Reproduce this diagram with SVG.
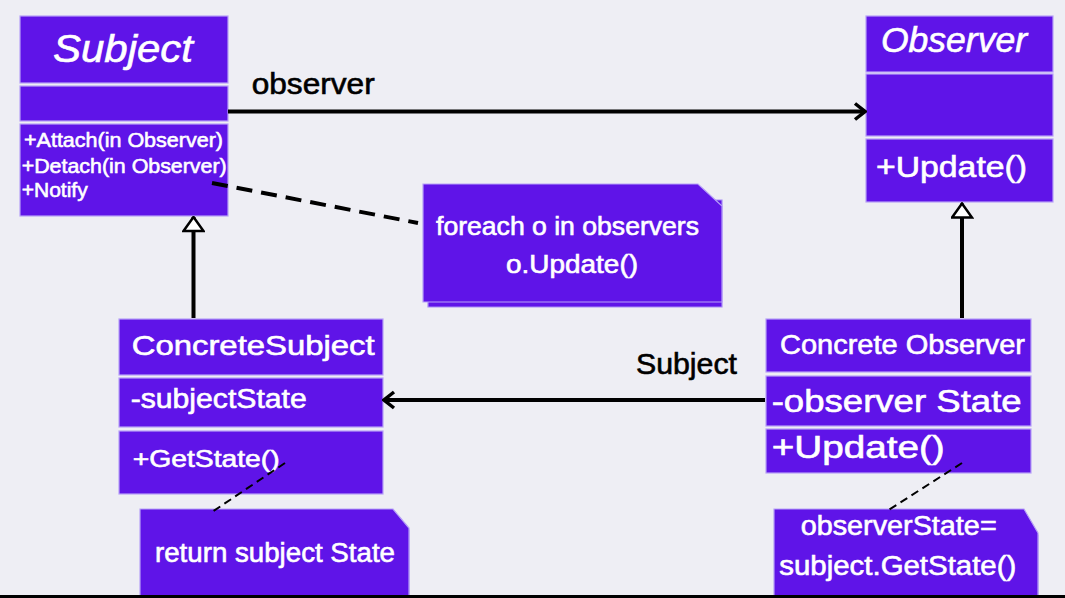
<svg xmlns="http://www.w3.org/2000/svg" width="1065" height="598" viewBox="0 0 1065 598">
<style>
.c{fill:#5f14e8;stroke:#b7a1f7;stroke-width:1.2}
.sh{fill:#5f14e8;stroke:#a88cf5;stroke-width:1.2}
.t{font-family:"Liberation Sans",Arial,sans-serif;fill:#ffffff;stroke:#ffffff;stroke-width:0.6}
.k{font-family:"Liberation Sans",Arial,sans-serif;fill:#000000;stroke:#000000;stroke-width:0.6}
.ln{stroke:#000;stroke-width:4;fill:none}
.dt{stroke:#000;stroke-width:2;fill:none;stroke-dasharray:8 5}
</style>
<defs>
<marker id="open" viewBox="0 0 14 20" refX="12" refY="10" markerWidth="14" markerHeight="20" markerUnits="userSpaceOnUse" orient="auto">
<path d="M2,2 L12,10 L2,18" fill="none" stroke="#000" stroke-width="3.5" stroke-linejoin="miter"/>
</marker>
<marker id="tri" viewBox="0 0 17 23" refX="15.5" refY="11.5" markerWidth="17" markerHeight="23" markerUnits="userSpaceOnUse" orient="auto">
<path d="M1.5,1.5 L15.5,11.5 L1.5,21.5 Z" fill="#fff" stroke="#000" stroke-width="2.5" stroke-linejoin="miter"/>
</marker>
</defs>
<rect x="0" y="0" width="1065" height="598" fill="#eeeef4"/>

<g id="subject">
<rect class="c" x="20" y="16" width="208" height="67"/>
<rect class="c" x="20" y="86" width="208" height="35"/>
<rect class="c" x="20" y="124" width="208" height="92"/>
<text class="t" x="53" y="62" font-size="39" font-style="italic" textLength="140" lengthAdjust="spacingAndGlyphs">Subject</text>
<text class="t" x="24" y="146.7" font-size="21" textLength="199" lengthAdjust="spacingAndGlyphs">+Attach(in Observer)</text>
<text class="t" x="21.7" y="172.7" font-size="21" textLength="205" lengthAdjust="spacingAndGlyphs">+Detach(in Observer)</text>
<text class="t" x="21.7" y="196.5" font-size="21" textLength="66" lengthAdjust="spacingAndGlyphs">+Notify</text>
</g>

<g id="observer">
<rect class="c" x="866" y="16" width="187" height="56"/>
<rect class="c" x="866" y="74" width="187" height="62"/>
<rect class="c" x="866" y="139" width="187" height="63"/>
<text class="t" x="881" y="51.7" font-size="35" font-style="italic" textLength="146" lengthAdjust="spacingAndGlyphs">Observer</text>
<text class="t" x="876" y="176.7" font-size="29" textLength="151" lengthAdjust="spacingAndGlyphs">+Update()</text>
</g>

<g id="concrete-subject">
<rect class="c" x="119" y="319" width="264" height="56"/>
<rect class="c" x="119" y="378" width="264" height="49"/>
<rect class="c" x="119" y="431" width="264" height="63"/>
<text class="t" x="131.7" y="355" font-size="28" textLength="243" lengthAdjust="spacingAndGlyphs">ConcreteSubject</text>
<text class="t" x="130.7" y="408" font-size="27" textLength="176" lengthAdjust="spacingAndGlyphs">-subjectState</text>
<text class="t" x="132.7" y="466.7" font-size="24" textLength="147" lengthAdjust="spacingAndGlyphs">+GetState()</text>
</g>

<g id="concrete-observer">
<rect class="c" x="766" y="319" width="265" height="53"/>
<rect class="c" x="766" y="376" width="265" height="50"/>
<rect class="c" x="766" y="429" width="265" height="44"/>
<text class="t" x="780" y="354" font-size="27" textLength="245" lengthAdjust="spacingAndGlyphs">Concrete Observer</text>
<text class="t" x="771.7" y="411.7" font-size="31" textLength="250" lengthAdjust="spacingAndGlyphs">-observer State</text>
<text class="t" x="771.7" y="458.3" font-size="31" textLength="173" lengthAdjust="spacingAndGlyphs">+Update()</text>
</g>

<g id="note-foreach">
<polygon class="sh" points="428,200 722,200 722,307 428,307"/>
<polygon class="c" points="423,184 698,184 722,206 722,302 423,302"/>
<text class="t" x="436" y="235" font-size="25" textLength="263" lengthAdjust="spacingAndGlyphs">foreach o in observers</text>
<text class="t" x="506" y="273" font-size="25" textLength="132" lengthAdjust="spacingAndGlyphs">o.Update()</text>
</g>

<g id="note-return">
<polygon class="sh" points="144,530 409,530 409,600 144,600"/>
<polygon class="c" points="140,509 393,509 409,528 409,600 140,600"/>
<text class="t" x="155" y="561.7" font-size="27" textLength="240" lengthAdjust="spacingAndGlyphs">return subject State</text>
</g>

<g id="note-observerstate">
<polygon class="sh" points="778,535 1038,535 1038,600 778,600"/>
<polygon class="c" points="774,509 1024,509 1038,533 1038,600 774,600"/>
<text class="t" x="800.7" y="535" font-size="27" textLength="196" lengthAdjust="spacingAndGlyphs">observerState=</text>
<text class="t" x="779.3" y="575" font-size="27" textLength="237" lengthAdjust="spacingAndGlyphs">subject.GetState()</text>
</g>

<g id="connectors">
<line class="ln" x1="228" y1="111.5" x2="865" y2="111.5" marker-end="url(#open)"/>
<line class="ln" x1="765" y1="400" x2="384" y2="400" marker-end="url(#open)"/>
<line class="ln" x1="193.5" y1="318" x2="193.5" y2="217" marker-end="url(#tri)"/>
<line class="ln" x1="962" y1="318" x2="962" y2="203.5" marker-end="url(#tri)"/>
<line x1="212" y1="183" x2="418" y2="223" stroke="#000" stroke-width="4" stroke-dasharray="16 9"/>
<line class="dt" x1="285" y1="463" x2="212" y2="512"/>
<line class="dt" x1="962" y1="463" x2="887" y2="511"/>
</g>

<g id="labels">
<text class="k" x="251.7" y="94" font-size="29" textLength="123" lengthAdjust="spacingAndGlyphs">observer</text>
<text class="k" x="636" y="374" font-size="29" textLength="101" lengthAdjust="spacingAndGlyphs">Subject</text>
</g>

<rect x="0" y="595" width="1065" height="3" fill="#000"/>
</svg>
